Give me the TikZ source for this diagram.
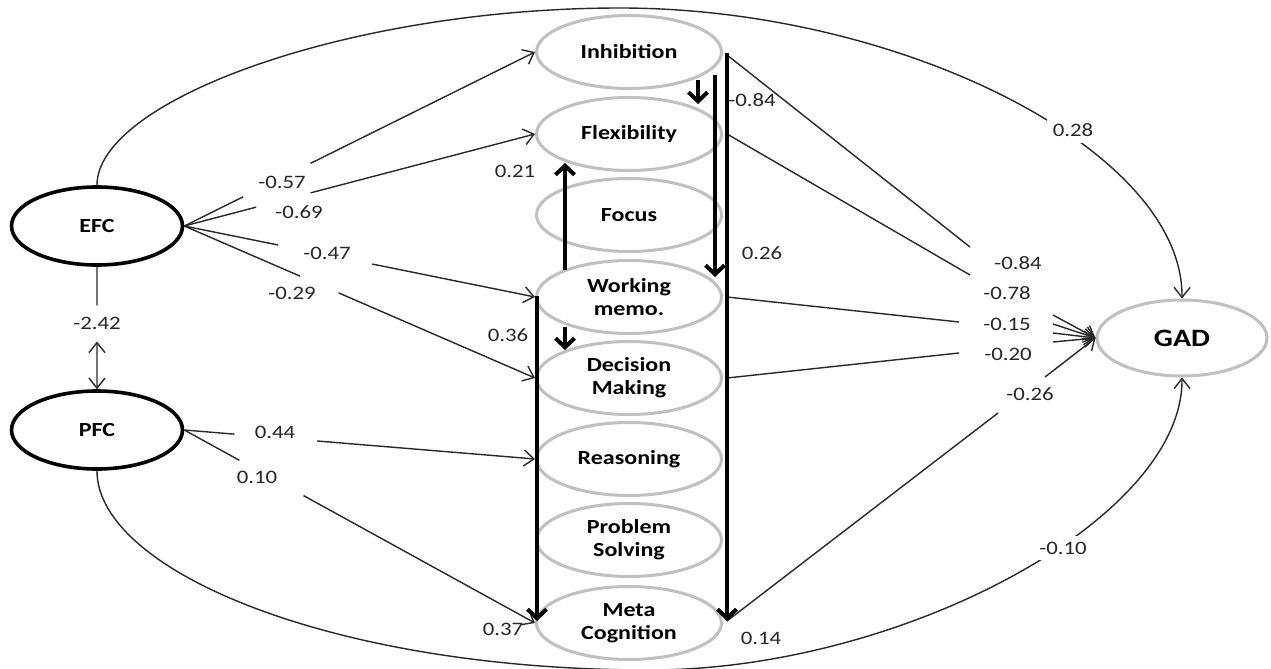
\documentclass[tikz,border=0pt]{standalone}
\usepackage{fontspec}
\setmainfont{Carlito}[FakeStretch=1.2]
\usetikzlibrary{arrows.meta,shapes.geometric,calc}
\definecolor{ellgray}{RGB}{192,192,192}
\definecolor{lnk}{RGB}{40,40,40}
\begin{document}
\begin{tikzpicture}[x=0.5pt,y=-0.5pt,
  latent/.style={ellipse,draw=black,line width=1.8pt,minimum width=85.5pt,minimum height=39pt,inner sep=0pt,font=\bfseries\fontsize{10}{12}\selectfont},
  ef/.style={ellipse,draw=ellgray,line width=1.5pt,minimum width=92.5pt,minimum height=36.5pt,inner sep=0pt,align=center,font=\bfseries\fontsize{10}{11.5}\selectfont},
  outc/.style={ellipse,draw=ellgray,line width=1.5pt,minimum width=85pt,minimum height=38pt,inner sep=0pt,font=\bfseries\fontsize{12.5}{14}\selectfont},
  lbl/.style={font=\fontsize{9.5}{11}\selectfont,text=black!85,inner sep=1pt},
  cover/.style={lbl,fill=white,inner sep=3pt},
  thinln/.style={line width=0.7pt,draw=lnk},
  thinar/.style={thinln,-{Straight Barb[length=5pt,width=8pt]}},
  heavy/.style={line width=2pt,-{Straight Barb[length=4.5pt,width=9.5pt]}}
]
\path[use as bounding box,fill=white] (0,0) rectangle (1271,669);

% nodes
\node[latent] (efc) at (97,226) {EFC};
\node[latent] (pfc) at (97,430) {PFC};
\node[ef] (inh)  at (629,52)  {Inhibition};
\node[ef] (flex) at (629,134) {Flexibility};
\node[ef] (foc)  at (629,215) {Focus};
\node[ef] (wm)   at (629,297) {Working\\memo.};
\node[ef] (dm)   at (629,378) {Decision\\Making};
\node[ef] (reas) at (629,459) {Reasoning};
\node[ef] (ps)   at (629,540) {Problem\\Solving};
\node[ef] (meta) at (629,623) {Meta\\Cognition};
\node[outc] (gad) at (1182,338) {GAD};

% left connectors (with gaps at labels)
\draw[thinar] (efc.east) -- ($(efc.east)!0.168!(inh.west)$) ($(efc.east)!0.36!(inh.west)$) -- (inh.west);
\draw[thinar] (efc.east) -- ($(efc.east)!0.205!(flex.west)$) ($(efc.east)!0.36!(flex.west)$) -- (flex.west);
\draw[thinar] (efc.east) -- ($(efc.east)!0.267!(wm.west)$) ($(efc.east)!0.536!(wm.west)$) -- (wm.west);
\draw[thinar] (efc.east) -- ($(efc.east)!0.33!(dm.west)$) ($(efc.east)!0.44!(dm.west)$) -- (dm.west);
\draw[thinar] (pfc.east) -- ($(pfc.east)!0.143!(reas.west)$) ($(pfc.east)!0.378!(reas.west)$) -- (reas.west);
\draw[thinar] (pfc.east) -- ($(pfc.east)!0.157!(meta.west)$) ($(pfc.east)!0.34!(meta.west)$) -- (meta.west);
\draw[thinln,{Straight Barb[length=5pt,width=8pt]}-{Straight Barb[length=5pt,width=8pt]}]
  (efc.south) -- ($(efc.south)!0.315!(pfc.north)$) ($(efc.south)!0.61!(pfc.north)$) -- (pfc.north);

% right connectors
\coordinate (sI) at (727,55);  \coordinate (gI1) at (970,247); \coordinate (gI2) at (1053,315);
\coordinate (sF) at (727,134); \coordinate (gF1) at (970,275); \coordinate (gF2) at (1053,324);
\coordinate (sW) at (727,297); \coordinate (gW1) at (959,322); \coordinate (gW2) at (1053,333);
\coordinate (sD) at (727,378); \coordinate (gD1) at (959,353); \coordinate (gD2) at (1053,342);
\coordinate (sM) at (727,621); \coordinate (gM1) at (998,413); \coordinate (gM2) at (1045,377);
\draw[thinar] (sI) -- (gI1) (gI2) -- (gad.west);
\draw[thinar] (sF) -- (gF1) (gF2) -- (gad.west);
\draw[thinar] (sW) -- (gW1) (gW2) -- (gad.west);
\draw[thinar] (sD) -- (gD1) (gD2) -- (gad.west);
\draw[thinar] (sM) -- (gM1) (gM2) -- (gad.west);

% long curves
\draw[thinar] (efc.north) .. controls (97,100) and (350,8) .. (620,8)
  .. controls (900,8) and (1183,150) .. (gad.north);
\draw[thinar] (pfc.south) .. controls (97,570) and (330,670) .. (650,670)
  .. controls (900,670) and (1183,520) .. (gad.south);

% heavy arrows
\coordinate (a1) at (698,80);  \coordinate (a2) at (698,104);
\coordinate (b1) at (715,75);  \coordinate (b2) at (715,277);
\coordinate (c1) at (727,53);  \coordinate (c2) at (727,621);
\coordinate (d1) at (565,270); \coordinate (d2) at (565,163);
\coordinate (e1) at (565,327); \coordinate (e2) at (565,350);
\coordinate (f1) at (537,296); \coordinate (f2) at (537,621);
\draw[heavy] (a1) -- (a2);
\draw[heavy] (b1) -- (b2);
\draw[heavy] (c1) -- (c2);
\draw[heavy] (d1) -- (d2);
\draw[heavy] (e1) -- (e2);
\draw[heavy] (f1) -- (f2);

% labels
\node[lbl] (l057) at (282,182) {-0.57};
\node[lbl] (l069) at (299,212) {-0.69};
\node[lbl] (l047) at (327,253) {-0.47};
\node[lbl] (l029) at (292,293) {-0.29};
\node[lbl] (l242) at (97,323) {-2.42};
\node[lbl] (l044) at (275,432) {0.44};
\node[lbl] (l010a) at (257,477) {0.10};
\node[lbl] (l084m) at (752,100) {-0.84};
\node[lbl] (l026) at (762,253) {0.26};
\node[lbl] (l021) at (515,171) {0.21};
\node[lbl] (l036) at (508,335) {0.36};
\node[lbl] (l037) at (503,629) {0.37};
\node[lbl] (l014) at (761,638) {0.14};
\node[lbl] (l084) at (1018,263) {-0.84};
\node[lbl] (l078) at (1007,293) {-0.78};
\node[lbl] (l015) at (1007,324) {-0.15};
\node[lbl] (l020) at (1008,354) {-0.20};
\node[lbl] (l026r) at (1030,394) {-0.26};
\node[cover] (l028) at (1073,130) {0.28};
\node[cover] (l010) at (1063,548) {-0.10};
\end{tikzpicture}
\end{document}
